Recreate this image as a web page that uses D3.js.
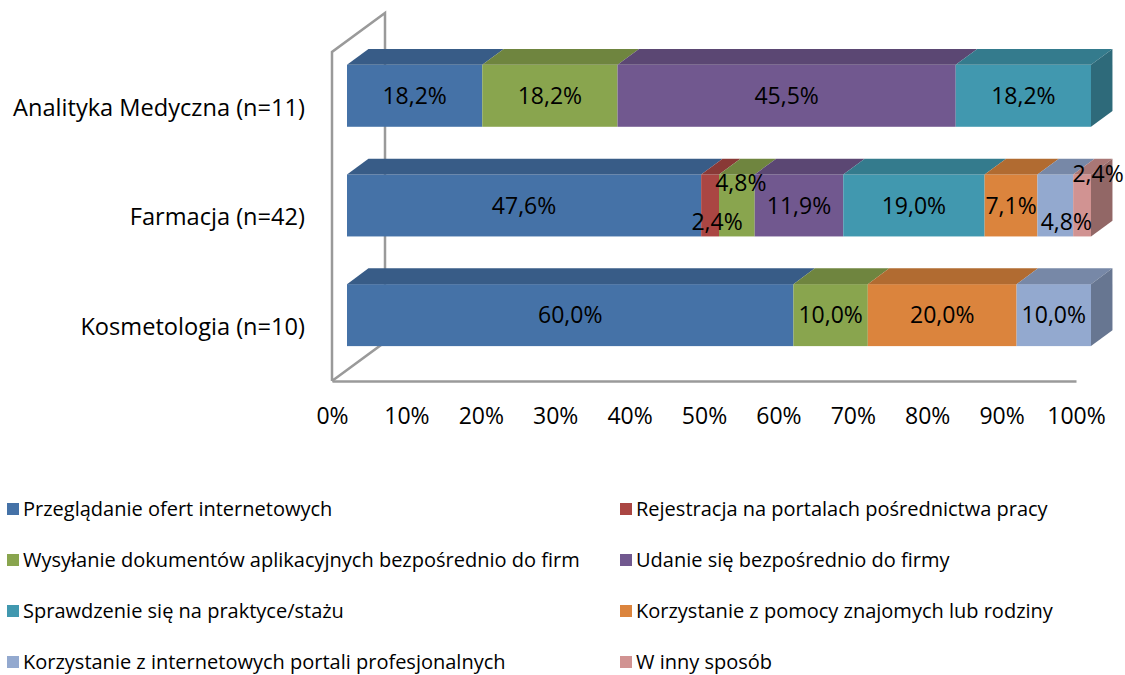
<!DOCTYPE html>
<html>
<head>
<meta charset="utf-8">
<script src="https://cdn.jsdelivr.net/npm/d3@7"></script>
<style>
  body { margin: 0; background: #fff; }
  text { font-family: "Open Sans", sans-serif; fill: #000; }
</style>
</head>
<body>
<script>
// chart data
const categories = ["Analityka Medyczna (n=11)", "Farmacja (n=42)", "Kosmetologia (n=10)"];
const seriesNames = [
  "Przeglądanie ofert internetowych",
  "Rejestracja na portalach pośrednictwa pracy",
  "Wysyłanie dokumentów aplikacyjnych bezpośrednio do firm",
  "Udanie się bezpośrednio do firmy",
  "Sprawdzenie się na praktyce/stażu",
  "Korzystanie z pomocy znajomych lub rodziny",
  "Korzystanie z internetowych portali profesjonalnych",
  "W inny sposób"
];
const seriesColors = ["#4572A7", "#AA4643", "#89A54E", "#71588F", "#4198AF", "#DB843D", "#93A9CF", "#D19392"];
const analitykaValues = [18.2, 0, 18.2, 45.5, 18.2, 0, 0, 0];
const farmacjaValues = [47.6, 2.4, 4.8, 11.9, 19.0, 7.1, 4.8, 2.4];
const kosmetologiaValues = [60.0, 0, 10.0, 0, 0, 20.0, 10.0, 0];
const tickValues = [0, 0.1, 0.2, 0.3, 0.4, 0.5, 0.6, 0.7, 0.8, 0.9, 1];

// small label nudges for the crowded Farmacja bar (category index, series index, dx, dy)
const labelNudge = [[1, 1, 7, 16], [1, 2, 4, -23], [1, 6, 11, 16], [1, 7, 16, -32]];

var width = 1125
var height = 675

const svg = d3.select("body").append("svg")
    .attr("width", width)
    .attr("height", height)

// build rows for the stack
const allValues = [analitykaValues, farmacjaValues, kosmetologiaValues]
const rows = categories.map((c, i) => {
    const r = {cat: c}
    seriesNames.forEach((s, j) => r[s] = allValues[i][j])
    return r
})
const stacked = d3.stack().keys(seriesNames).offset(d3.stackOffsetExpand)(rows)

// front plane scales
const xScale = d3.scaleLinear().domain([0, 1]).range([332, 1076])
const yScale = d3.scaleBand().domain(categories).range([52, 381])
    .paddingInner(0.435).paddingOuter(0.2175)

// 3d depth vector of the walls and the bar slab inside it
const depth = {x: 53, y: -39}
const t0 = 0.283, t1 = 0.688

const pl = d3.formatLocale({decimal: ",", thousands: " ", grouping: [3], currency: ["", ""]})
const fmtVal = pl.format(".1f")

// side wall outline
const x0 = xScale(0), yTop = yScale.range()[0], yBot = yScale.range()[1]
svg.append("path")
    .attr("d", d3.line()([[x0, yBot], [x0, yTop], [x0 + depth.x, yTop + depth.y], [x0 + depth.x, yBot + depth.y], [x0, yBot]]))
    .attr("fill", "none")
    .attr("stroke", "#9a9a9a")
    .attr("stroke-width", 2.5)
    .attr("stroke-linejoin", "miter")

// x axis on floor front edge
const xAxis = svg.append("g")
    .attr("transform", "translate(0," + yBot + ")")
    .call(d3.axisBottom(xScale).tickValues(tickValues).tickFormat(d3.format(".0%")).tickSize(0).tickSizeOuter(0).tickPadding(27))
xAxis.select(".domain").attr("stroke", "#9a9a9a").attr("stroke-width", 2.5)
xAxis.selectAll("text").attr("font-size", "23px").attr("font-family", "Open Sans")

// category labels
svg.append("g").selectAll("text")
    .data(categories)
    .enter()
    .append("text")
    .attr("x", 305)
    .attr("y", d => yScale(d) + yScale.bandwidth() / 2)
    .attr("dy", "0.38em")
    .attr("text-anchor", "end")
    .attr("font-size", "23.6px")
    .text(d => d)

// bars
const fx = t0 * depth.x, fy = t0 * depth.y
const dx = (t1 - t0) * depth.x, dy = (t1 - t0) * depth.y
const bw = yScale.bandwidth()
const bars = svg.append("g")
categories.forEach((cat, ci) => {
    const yF = yScale(cat) + fy
    let lastSeries = -1
    stacked.forEach((s, si) => {
        const seg = s[ci]
        if (seg[1] - seg[0] <= 0) return
        lastSeries = si
        const xa = xScale(seg[0]) + fx, xb = xScale(seg[1]) + fx
        const col = d3.color(seriesColors[si])
        bars.append("rect")
            .attr("x", xa).attr("y", yF)
            .attr("width", xb - xa).attr("height", bw)
            .attr("fill", col)
        bars.append("path")
            .attr("d", d3.line()([[xa, yF], [xb, yF], [xb + dx, yF + dy], [xa + dx, yF + dy]]) + "Z")
            .attr("fill", col.darker(0.6))
    })
    // end side face
    const col = d3.color(seriesColors[lastSeries])
    const xe = xScale(1) + fx
    bars.append("path")
        .attr("d", d3.line()([[xe, yF], [xe + dx, yF + dy], [xe + dx, yF + bw + dy], [xe, yF + bw]]) + "Z")
        .attr("fill", col.darker(1.0))
})

// data labels
const labels = svg.append("g")
categories.forEach((cat, ci) => {
    stacked.forEach((s, si) => {
        const seg = s[ci]
        if (seg[1] - seg[0] <= 0) return
        const n = labelNudge.find(d => d[0] === ci && d[1] === si) || [ci, si, 0, 0]
        labels.append("text")
            .attr("x", (xScale(seg[0]) + xScale(seg[1])) / 2 + fx + n[2])
            .attr("y", yScale(cat) + fy + bw / 2 + n[3])
            .attr("dy", "0.36em")
            .attr("text-anchor", "middle")
            .attr("font-size", "23px")
            .text(fmtVal(allValues[ci][si]) + "%")
    })
})

// legend, two columns
const legend = svg.append("g")
seriesNames.forEach((name, i) => {
    const lx = i % 2 === 0 ? 7 : 620
    const ly = 516 + Math.floor(i / 2) * 51
    legend.append("rect")
        .attr("x", lx).attr("y", ly - 13)
        .attr("width", 12).attr("height", 12)
        .attr("fill", seriesColors[i])
    legend.append("text")
        .attr("x", lx + 16).attr("y", ly)
        .attr("font-size", "20px")
        .text(name)
})
</script>
</body>
</html>
